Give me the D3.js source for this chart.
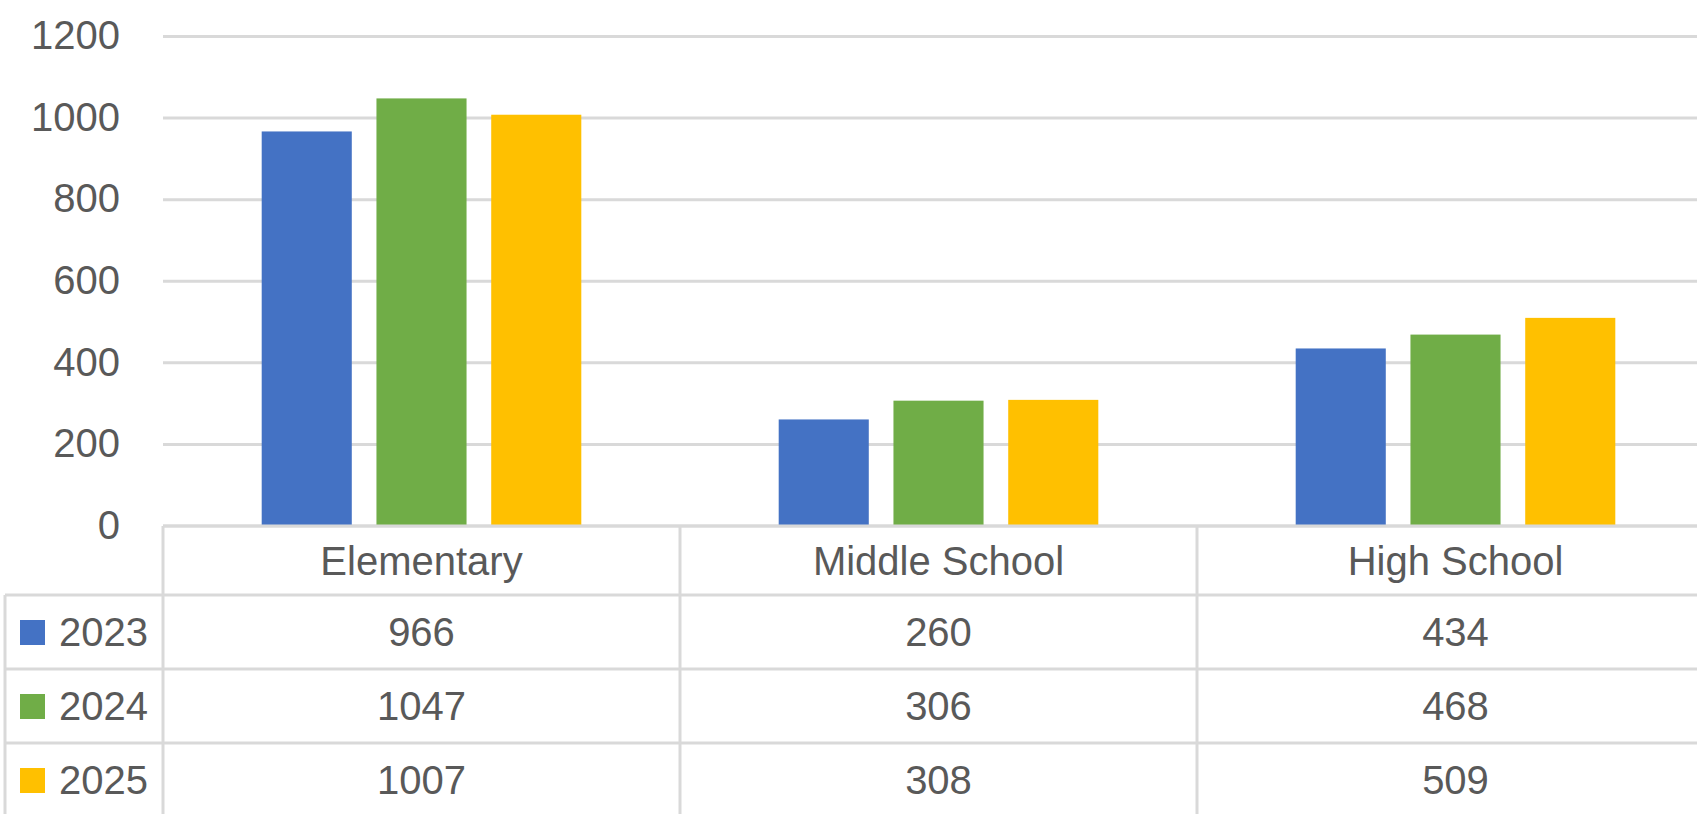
<!DOCTYPE html>
<html>
<head>
<meta charset="utf-8">
<script src="https://cdn.jsdelivr.net/npm/d3@7"></script>
<style>
	body { margin: 0; background: #fff; }
	text { font-family: "Liberation Sans", Arial, sans-serif; fill: #595959; }
</style>
</head>
<body>
<svg id="chart"></svg>
<script>
// data
var categories = ["Elementary", "Middle School", "High School"];
var years = ["2023", "2024", "2025"];
var values2023 = [966, 260, 434];
var values2024 = [1047, 306, 468];
var values2025 = [1007, 308, 509];
var yTicks = [0, 200, 400, 600, 800, 1000, 1200];
var colors = ["#4472C4", "#70AD47", "#FFC000"];

var seriesValues = [values2023, values2024, values2025];

var width = 1697;
var height = 814;
var gridColor = "#d9d9d9";
var fontSize = 40;

var svg = d3.select("#chart").attr("width", width).attr("height", height);

var plotLeft = 163;
var plotRight = 1714; // plot runs past the right edge, as in the screenshot
var tableTop = 526;
var headerH = 69;
var rowH = 74;

var y = d3.scaleLinear().domain([0, 1200]).range([525.5, 36]);

var x0 = d3.scaleBand().domain(categories).range([plotLeft, plotRight]);

var x1 = d3.scaleBand().domain(years).range([0, x0.bandwidth()])
	.paddingInner(0.215)
	.paddingOuter(0.86);

var color = d3.scaleOrdinal().domain(years).range(colors);

// gridlines + y labels
var yAxis = svg.append("g")
	.attr("transform", "translate(" + plotLeft + ",0)")
	.call(d3.axisLeft(y).tickValues(yTicks).tickFormat(d3.format("d"))
		.tickSize(-(width - plotLeft)).tickPadding(43));

yAxis.select(".domain").remove();
yAxis.selectAll(".tick line").attr("stroke", gridColor).attr("stroke-width", 3);
yAxis.selectAll(".tick text")
	.style("font-size", fontSize + "px")
	.attr("fill", "#595959");

// bars
var groups = svg.append("g").selectAll("g")
	.data(categories)
	.enter().append("g")
	.attr("transform", function(d) { return "translate(" + x0(d) + ",0)"; });

groups.selectAll("rect")
	.data(function(d, i) {
		return years.map(function(yr, j) { return {year: yr, value: seriesValues[j][i]}; });
	})
	.enter().append("rect")
	.attr("x", function(d) { return x1(d.year); })
	.attr("y", function(d) { return y(d.value); })
	.attr("width", x1.bandwidth())
	.attr("height", function(d) { return y(0) - y(d.value); })
	.attr("fill", function(d) { return color(d.year); });

// data table
var table = svg.append("g");
var tableBottom = height + 10;

function hline(x1_, x2_, yy) {
	table.append("line").attr("x1", x1_).attr("x2", x2_).attr("y1", yy).attr("y2", yy)
		.attr("stroke", gridColor).attr("stroke-width", 3);
}
function vline(xx, y1_, y2_) {
	table.append("line").attr("x1", xx).attr("x2", xx).attr("y1", y1_).attr("y2", y2_)
		.attr("stroke", gridColor).attr("stroke-width", 3);
}

hline(plotLeft, width, tableTop);
years.forEach(function(yr, i) {
	hline(5, width, tableTop + headerH + i * rowH);
});
vline(5, tableTop + headerH, tableBottom);
categories.forEach(function(c) {
	vline(x0(c), tableTop, tableBottom);
});

// category header row
table.selectAll(".cat")
	.data(categories)
	.enter().append("text")
	.attr("class", "cat")
	.attr("x", function(d) { return x0(d) + x0.bandwidth() / 2; })
	.attr("y", tableTop + headerH / 2)
	.attr("dy", "0.36em")
	.attr("text-anchor", "middle")
	.style("font-size", fontSize + "px")
	.text(function(d) { return d; });

// one row per year
var rows = table.selectAll(".row")
	.data(years)
	.enter().append("g")
	.attr("class", "row")
	.attr("transform", function(d, i) { return "translate(0," + (tableTop + headerH + i * rowH) + ")"; });

rows.append("rect")
	.attr("x", 20)
	.attr("y", rowH / 2 - 12)
	.attr("width", 25)
	.attr("height", 25)
	.attr("fill", function(d) { return color(d); });

rows.append("text")
	.attr("x", 59)
	.attr("y", rowH / 2)
	.attr("dy", "0.36em")
	.style("font-size", fontSize + "px")
	.text(function(d) { return d; });

rows.each(function(yr, j) {
	d3.select(this).selectAll(".val")
		.data(seriesValues[j])
		.enter().append("text")
		.attr("class", "val")
		.attr("x", function(d, i) { return x0(categories[i]) + x0.bandwidth() / 2; })
		.attr("y", rowH / 2)
		.attr("dy", "0.36em")
		.attr("text-anchor", "middle")
		.style("font-size", fontSize + "px")
		.text(function(d) { return d; });
});
</script>
</body>
</html>
